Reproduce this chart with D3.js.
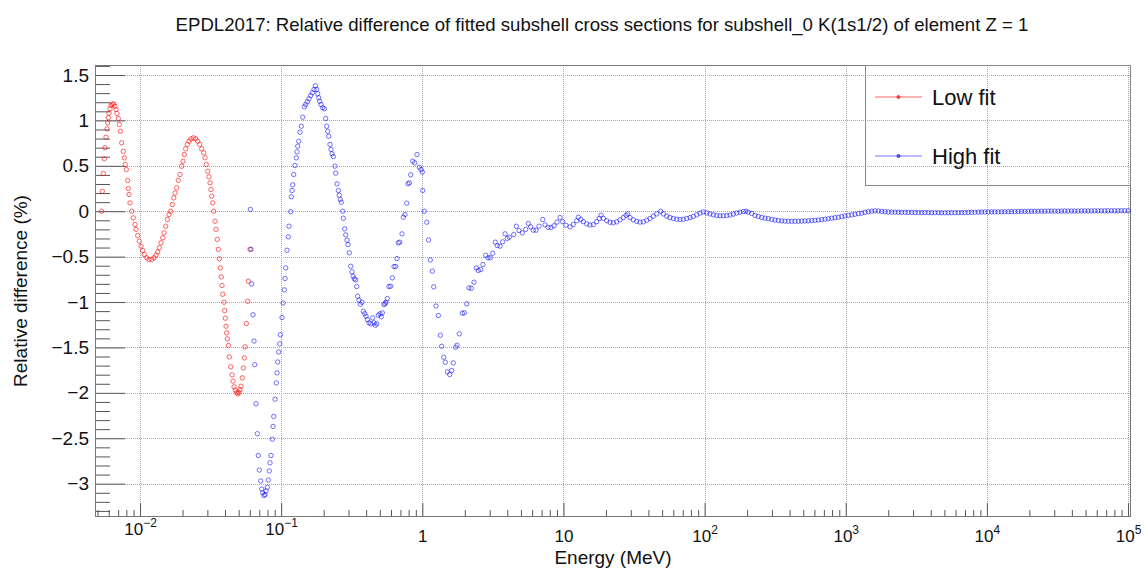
<!DOCTYPE html>
<html><head><meta charset="utf-8">
<script src="https://cdn.jsdelivr.net/npm/d3@7"></script>
<style>
html,body{margin:0;padding:0;background:#fff;}
svg{display:block;font-family:"Liberation Sans",Arial,Helvetica,sans-serif;}
</style></head><body>
<svg id="chart" width="1146" height="570"></svg>
<script>
// ---- data: [log10(Energy / MeV), relative difference (%)] ----
const lowFit = [
[-2.2715,0.0],[-2.2672,0.22],[-2.2602,0.415],[-2.2531,0.577],[-2.2481,0.70],[-2.2410,0.815],[-2.2339,0.907],[-2.2290,0.973],[-2.2247,1.03],[-2.2198,1.08],[-2.2127,1.13],[-2.2056,1.164],[-2.1964,1.18],[-2.1865,1.18],[-2.1773,1.156],[-2.1702,1.12],[-2.1631,1.076],[-2.1539,1.02],[-2.1468,0.955],[-2.1397,0.88],[-2.1298,0.753],[-2.1185,0.66],[-2.1114,0.587],[-2.1043,0.514],[-2.0972,0.459],[-2.0873,0.338],[-2.0830,0.25],[-2.0781,0.184],[-2.0710,0.092],[-2.0590,0],[-2.0476,-0.073],[-2.0356,-0.146],[-2.0285,-0.2],[-2.0164,-0.268],[-2.0051,-0.33],[-1.9931,-0.385],[-1.9810,-0.433],[-1.9697,-0.477],[-1.9527,-0.513],[-1.9364,-0.532],[-1.9172,-0.532],[-1.9010,-0.513],[-1.8868,-0.484],[-1.8747,-0.447],[-1.8634,-0.403],[-1.8514,-0.348],[-1.8393,-0.293],[-1.8301,-0.238],[-1.8181,-0.165],[-1.8067,-0.091],[-1.7947,-0.036],[-1.7827,0],[-1.7713,0.074],[-1.7614,0.147],[-1.7522,0.2],[-1.7401,0.258],[-1.7288,0.34],[-1.7167,0.404],[-1.7047,0.495],[-1.6955,0.55],[-1.6863,0.624],[-1.6764,0.687],[-1.6650,0.735],[-1.6530,0.771],[-1.6388,0.797],[-1.6225,0.808],[-1.6055,0.797],[-1.5913,0.771],[-1.5772,0.735],[-1.5630,0.687],[-1.5488,0.643],[-1.5396,0.588],[-1.5304,0.514],[-1.5205,0.44],[-1.5113,0.379],[-1.5042,0.313],[-1.4971,0.239],[-1.4921,0.165],[-1.4850,0.092],[-1.4780,0],[-1.4688,-0.11],[-1.4617,-0.2],[-1.4525,-0.31],[-1.4454,-0.42],[-1.4383,-0.524],[-1.4312,-0.624],[-1.4241,-0.723],[-1.4192,-0.818],[-1.4142,-0.914],[-1.4050,-1.002],[-1.4000,-1.094],[-1.3958,-1.178],[-1.3908,-1.267],[-1.3859,-1.34],[-1.3816,-1.405],[-1.3745,-1.479],[-1.3674,-1.604],[-1.3575,-1.714],[-1.3483,-1.802],[-1.3412,-1.872],[-1.3341,-1.934],[-1.3249,-1.97],[-1.3150,-2.0],[-1.3058,-2.011],[-1.3008,-1.993],[-1.2916,-1.964],[-1.2845,-1.927],[-1.2753,-1.835],[-1.2682,-1.725],[-1.2611,-1.615],[-1.2562,-1.493],[-1.2470,-1.237],[-1.2371,-0.991],[-1.2328,-0.771],[-1.2208,-0.42]
];
const highFit = [
[-1.2186,0.02],[-1.2137,-0.42],[-1.2087,-0.80],[-1.1995,-1.14],[-1.1924,-1.43],[-1.1874,-1.69],[-1.1782,-2.12],[-1.1690,-2.45],[-1.1619,-2.69],[-1.1549,-2.85],[-1.1449,-2.97],[-1.1379,-3.06],[-1.1308,-3.10],[-1.1216,-3.13],[-1.1145,-3.12],[-1.1074,-3.08],[-1.0982,-3.04],[-1.0911,-2.96],[-1.0840,-2.86],[-1.0790,-2.77],[-1.0720,-2.69],[-1.0628,-2.51],[-1.0578,-2.37],[-1.0528,-2.26],[-1.0436,-2.07],[-1.0344,-1.89],[-1.0294,-1.78],[-1.0245,-1.66],[-1.0174,-1.55],[-1.0103,-1.46],[-1.0061,-1.36],[-0.9940,-1.17],[-0.9869,-1.01],[-0.9777,-0.866],[-0.9728,-0.741],[-0.9678,-0.624],[-0.9586,-0.43],[-0.9494,-0.282],[-0.9444,-0.165],[-0.9324,-0.005],[-0.9281,0.159],[-0.9232,0.228],[-0.9182,0.29],[-0.9111,0.404],[-0.9019,0.503],[-0.8927,0.588],[-0.8877,0.654],[-0.8828,0.716],[-0.8757,0.771],[-0.8665,0.87],[-0.8573,0.936],[-0.8474,1.035],[-0.8360,1.15],[-0.8261,1.175],[-0.8148,1.205],[-0.8027,1.238],[-0.7907,1.274],[-0.7794,1.304],[-0.7673,1.34],[-0.7581,1.381],[-0.7482,1.34],[-0.7411,1.293],[-0.7340,1.249],[-0.7269,1.211],[-0.7177,1.175],[-0.7057,1.139],[-0.6943,1.128],[-0.6844,1.021],[-0.6773,0.936],[-0.6702,0.881],[-0.6632,0.826],[-0.6539,0.735],[-0.6469,0.68],[-0.6398,0.632],[-0.6306,0.602],[-0.6185,0.496],[-0.6136,0.419],[-0.6043,0.302],[-0.5951,0.228],[-0.5881,0.176],[-0.5810,0.129],[-0.5739,0.099],[-0.5640,0],[-0.5597,-0.077],[-0.5498,-0.194],[-0.5427,-0.26],[-0.5335,-0.319],[-0.5264,-0.367],[-0.5172,-0.458],[-0.5073,-0.606],[-0.4981,-0.667],[-0.4910,-0.716],[-0.4818,-0.745],[-0.4719,-0.756],[-0.4648,-0.829],[-0.4577,-0.936],[-0.4485,-0.98],[-0.4393,-1.024],[-0.4272,-1.002],[-0.4180,-1.101],[-0.4081,-1.127],[-0.3989,-1.156],[-0.3897,-1.193],[-0.3776,-1.229],[-0.3656,-1.24],[-0.3514,-1.174],[-0.3422,-1.229],[-0.3330,-1.256],[-0.3231,-1.24],[-0.3117,-1.145],[-0.2997,-1.13],[-0.2905,-1.163],[-0.2834,-1.119],[-0.2714,-1.028],[-0.2643,-1.017],[-0.2572,-1.002],[-0.2480,-0.962],[-0.2359,-0.829],[-0.2239,-0.826],[-0.2126,-0.734],[-0.2005,-0.609],[-0.1885,-0.609],[-0.1793,-0.521],[-0.1700,-0.348],[-0.1601,-0.341],[-0.1438,-0.249],[-0.1346,-0.066],[-0.1226,-0.036],[-0.1105,0.088],[-0.1013,0.302],[-0.0921,0.313],[-0.0822,0.401],[-0.0680,0.551],[-0.0538,0.533],[-0.0376,0.624],[-0.0213,0.485],[-0.0092,0.459],[0.0,0.43],[0.0028,0.228],[0.0142,0.0],[0.0312,-0.121],[0.0439,-0.317],[0.0567,-0.537],[0.0709,-0.66],[0.0808,-0.833],[0.0971,-1.044],[0.1134,-1.149],[0.1275,-1.366],[0.1374,-1.487],[0.1516,-1.608],[0.1630,-1.663],[0.1771,-1.769],[0.1941,-1.798],[0.2083,-1.754],[0.2196,-1.67],[0.2366,-1.498],[0.2458,-1.476],[0.2621,-1.35],[0.2834,-1.123],[0.2976,-1.119],[0.3146,-1.02],[0.3309,-0.844],[0.3472,-0.848],[0.3663,-0.782],[0.3826,-0.624],[0.3968,-0.653],[0.4138,-0.642],[0.4301,-0.587],[0.4492,-0.485],[0.4655,-0.513],[0.4818,-0.513],[0.4988,-0.463],[0.5172,-0.341],[0.5314,-0.378],[0.5505,-0.385],[0.5696,-0.337],[0.5859,-0.249],[0.6022,-0.3],[0.6164,-0.286],[0.6476,-0.257],[0.6660,-0.165],[0.6851,-0.213],[0.7085,-0.238],[0.7326,-0.2],[0.7510,-0.135],[0.7680,-0.172],[0.7864,-0.209],[0.8055,-0.209],[0.8268,-0.165],[0.8530,-0.091],[0.8693,-0.15],[0.8906,-0.178],[0.9118,-0.18],[0.9331,-0.16],[0.9543,-0.12],[0.9756,-0.07],[0.9947,-0.115],[1.0181,-0.155],[1.0465,-0.172],[1.0698,-0.146],[1.0939,-0.105],[1.1053,-0.066],[1.1223,-0.091],[1.1407,-0.115],[1.1648,-0.14],[1.1881,-0.152],[1.2115,-0.148],[1.2356,-0.115],[1.2540,-0.08],[1.2661,-0.044],[1.2824,-0.078],[1.3065,-0.105],[1.3299,-0.122],[1.3532,-0.128],[1.3773,-0.117],[1.4007,-0.095],[1.4241,-0.07],[1.4432,-0.045],[1.4553,-0.029],[1.4716,-0.07],[1.4949,-0.095],[1.5190,-0.112],[1.5424,-0.12],[1.5658,-0.117],[1.5899,-0.1],[1.6132,-0.08],[1.6366,-0.055],[1.6607,-0.03],[1.6891,0],[1.7075,-0.03],[1.7316,-0.055],[1.7549,-0.07],[1.7783,-0.08],[1.8024,-0.088],[1.8258,-0.091],[1.8492,-0.089],[1.8733,-0.08],[1.8966,-0.07],[1.9200,-0.058],[1.9441,-0.04],[1.9675,-0.022],[1.9909,-0.007],[2.0150,-0.018],[2.0383,-0.03],[2.0617,-0.04],[2.0858,-0.047],[2.1092,-0.05],[2.1326,-0.051],[2.1567,-0.048],[2.1800,-0.042],[2.2034,-0.032],[2.2275,-0.02],[2.2509,-0.011],[2.2743,-0.004],[2.2934,0],[2.3097,-0.01],[2.3338,-0.025],[2.3572,-0.047],[2.3806,-0.058],[2.4047,-0.068],[2.4280,-0.076],[2.4514,-0.082],[2.4755,-0.09],[2.4989,-0.097],[2.5223,-0.103],[2.5464,-0.107],[2.5697,-0.109],[2.5931,-0.11],[2.6172,-0.111],[2.6406,-0.111],[2.6640,-0.11],[2.6881,-0.109],[2.7114,-0.107],[2.7348,-0.105],[2.7589,-0.103],[2.7823,-0.1],[2.8057,-0.097],[2.8298,-0.093],[2.8531,-0.088],[2.8765,-0.083],[2.9006,-0.077],[2.9240,-0.071],[2.9474,-0.066],[2.9715,-0.06],[2.9948,-0.052],[3.0182,-0.045],[3.0423,-0.04],[3.0657,-0.034],[3.0891,-0.026],[3.1132,-0.022],[3.1365,-0.013],[3.1599,-0.005],[3.1840,0.0],[3.2074,0.004],[3.2308,0.002],[3.2549,-0.002],[3.2782,-0.005],[3.3016,-0.008],[3.3257,-0.01],[3.3491,-0.01],
[3.373,-0.011],[3.396,-0.012],[3.420,-0.012],[3.443,-0.013],[3.467,-0.013],[3.491,-0.014],[3.514,-0.014],[3.538,-0.015],[3.561,-0.015],[3.585,-0.015],[3.608,-0.016],[3.632,-0.016],[3.656,-0.016],[3.679,-0.017],[3.703,-0.017],[3.726,-0.017],[3.750,-0.017],[3.774,-0.016],[3.797,-0.016],[3.821,-0.015],[3.844,-0.014],[3.868,-0.013],[3.891,-0.012],[3.915,-0.011],[3.939,-0.010],[3.962,-0.009],[3.986,-0.008],[4.009,-0.008],[4.033,-0.007],[4.056,-0.007],[4.080,-0.007],[4.104,-0.006],[4.127,-0.006],[4.151,-0.005],[4.174,-0.005],[4.198,-0.004],[4.222,-0.003],[4.245,-0.002],[4.269,-0.002],[4.292,-0.001],[4.316,-0.001],[4.339,0.0],[4.363,0.0],[4.387,0.0],[4.410,0.0],[4.434,0.001],[4.457,0.001],[4.481,0.001],[4.504,0.001],[4.528,0.001],[4.552,0.002],[4.575,0.002],[4.599,0.002],[4.622,0.002],[4.646,0.002],[4.670,0.003],[4.693,0.003],[4.717,0.003],[4.740,0.003],[4.764,0.004],[4.787,0.004],[4.811,0.004],[4.835,0.004],[4.858,0.005],[4.882,0.005],[4.905,0.005],[4.929,0.005],[4.952,0.006],[4.976,0.006],[5.000,0.006]
];
const seriesNames = ["Low fit", "High fit"];
const yMajorTicks = [-3, -2.5, -2, -1.5, -1, -0.5, 0, 0.5, 1, 1.5];
const yTickLabels = ["\u22123", "\u22122.5", "\u22122", "\u22121.5", "\u22121", "\u22120.5", "0", "0.5", "1", "1.5"];
const xMajorTicks = [0.01, 0.1, 1, 10, 100, 1000, 10000, 100000];
const xTickBase = ["10", "10", "1", "10", "10", "10", "10", "10"];
const xTickExp = ["\u22122", "\u22121", "", "", "2", "3", "4", "5"];
const titleText = "EPDL2017: Relative difference of fitted subshell cross sections for subshell_0 K(1s1/2) of element Z = 1";
const xTitle = "Energy (MeV)";
const yTitle = "Relative difference (%)";

// ---- layout ----
const frame = {left: 95, right: 1131, top: 65, bottom: 517};
const svg = d3.select("#chart");
svg.append("rect").attr("width", 1146).attr("height", 570).attr("fill", "#fff");

const x = d3.scaleLog().domain([Math.pow(10, -2.319), Math.pow(10, 5.021)]).range([frame.left, frame.right]);
const y = d3.scaleLinear().domain([-3.367, 1.61]).range([frame.bottom, frame.top]);

const xMinor = [];
for (let d = -3; d <= 4; d++) for (let k = 2; k <= 9; k++) {
  const v = k * Math.pow(10, d);
  if (v > x.domain()[0] && v < x.domain()[1]) xMinor.push(v);
}
const yMinor = d3.range(-33, 17).map(i => i / 10).filter(v => Math.abs(v * 2 - Math.round(v * 2)) > 1e-6);

// grid
const grid = svg.append("g").attr("stroke", "#a8a8a8").attr("stroke-width", 1).attr("stroke-dasharray", "1,1");
grid.selectAll("line.gx").data(xMajorTicks).join("line")
  .attr("x1", d => Math.round(x(d)) + 0.5).attr("x2", d => Math.round(x(d)) + 0.5)
  .attr("y1", frame.top).attr("y2", frame.bottom);
grid.selectAll("line.gy").data(yMajorTicks).join("line")
  .attr("x1", frame.left).attr("x2", frame.right)
  .attr("y1", d => Math.round(y(d)) + 0.5).attr("y2", d => Math.round(y(d)) + 0.5);

// axes
const axisColor = "#555";
const yAxisMajor = d3.axisLeft(y).tickValues(yMajorTicks).tickSizeInner(-30).tickSizeOuter(0).tickPadding(6)
  .tickFormat((d, i) => yTickLabels[i]);
const yAxisMinor = d3.axisLeft(y).tickValues(yMinor).tickSizeInner(-15).tickSizeOuter(0).tickFormat("");
const gyMinor = svg.append("g").attr("transform", `translate(${frame.left},0)`).call(yAxisMinor);
const gy = svg.append("g").attr("transform", `translate(${frame.left},0)`).call(yAxisMajor);
[gy, gyMinor].forEach(g => {
  g.select(".domain").remove();
  g.selectAll("line").attr("stroke", axisColor);
});
gy.selectAll("text").attr("font-size", 19).attr("fill", "#111").attr("font-family", "Liberation Sans, Arial, sans-serif");

const xAxisMajor = d3.axisBottom(x).tickValues(xMajorTicks).tickSizeInner(-14).tickSizeOuter(0).tickFormat("");
const xAxisMinor = d3.axisBottom(x).tickValues(xMinor).tickSizeInner(-7).tickSizeOuter(0).tickFormat("");
const gxMinor = svg.append("g").attr("transform", `translate(0,${frame.bottom})`).call(xAxisMinor);
const gx = svg.append("g").attr("transform", `translate(0,${frame.bottom})`).call(xAxisMajor);
[gx, gxMinor].forEach(g => {
  g.select(".domain").remove();
  g.selectAll("line").attr("stroke", axisColor);
});
gx.selectAll(".tick").each(function(d, i) {
  const t = d3.select(this).select("text");
  const neg = xTickExp[i].startsWith("\u2212");
  t.attr("y", neg ? 18 : 25).attr("dy", null).attr("font-size", 17).attr("fill", "#111")
   .attr("font-family", "Liberation Sans, Arial, sans-serif").attr("text-anchor", "middle").text(null);
  t.append("tspan").text(xTickBase[i]);
  if (xTickExp[i]) t.append("tspan").attr("dy", -8).attr("font-size", 12).text(xTickExp[i]);
});

// frame
svg.append("rect").attr("x", frame.left + 0.5).attr("y", frame.top + 0.5)
  .attr("width", frame.right - frame.left - 1).attr("height", frame.bottom - frame.top - 1)
  .attr("fill", "none").attr("stroke", "#777").attr("stroke-width", 1);

// points
const colors = ["rgba(255,0,0,0.6)", "rgba(0,0,255,0.55)"];
[lowFit, highFit].forEach((series, si) => {
  svg.append("g").selectAll("circle").data(series).join("circle")
    .attr("cx", d => x(Math.pow(10, d[0])))
    .attr("cy", d => y(d[1]))
    .attr("r", 2.2)
    .attr("fill", "none")
    .attr("stroke", colors[si])
    .attr("stroke-width", 1);
});

// legend
const lg = svg.append("g");
lg.append("rect").attr("x", 865.5).attr("y", 65.5).attr("width", 265).attr("height", 120)
  .attr("fill", "none").attr("stroke", "#888");
const legendY = [97, 156];
seriesNames.forEach((name, i) => {
  lg.append("line").attr("x1", 875).attr("x2", 922).attr("y1", legendY[i]).attr("y2", legendY[i])
    .attr("stroke", colors[i]).attr("stroke-width", 1);
  lg.append("circle").attr("cx", 898.5).attr("cy", legendY[i]).attr("r", 1.6)
    .attr("fill", colors[i]).attr("stroke", colors[i]);
  lg.append("text").attr("x", 932).attr("y", legendY[i] + 8).attr("font-size", 22).attr("fill", "#111").text(name);
});

// titles
svg.append("text").attr("x", 602).attr("y", 31).attr("text-anchor", "middle").attr("font-size", 18.6)
  .attr("fill", "#111").text(titleText);
svg.append("text").attr("x", (frame.left + frame.right) / 2).attr("y", 564).attr("text-anchor", "middle")
  .attr("font-size", 19).attr("fill", "#111").text(xTitle);
svg.append("text").attr("transform", `translate(27,${(frame.top + frame.bottom) / 2}) rotate(-90)`)
  .attr("text-anchor", "middle").attr("font-size", 19).attr("fill", "#111").text(yTitle);
</script>
</body></html>
